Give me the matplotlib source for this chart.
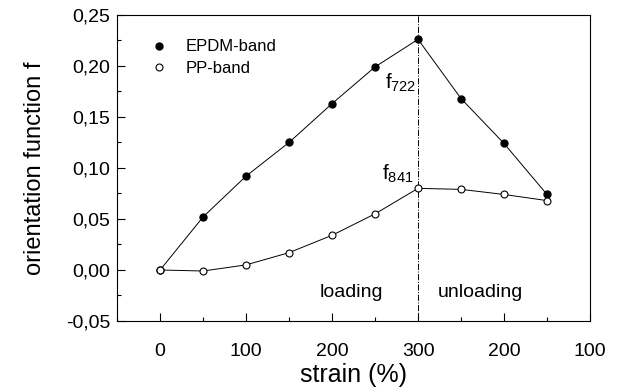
import matplotlib
matplotlib.use("Agg")
import matplotlib.pyplot as plt
from matplotlib.ticker import MultipleLocator, FixedLocator, FixedFormatter

plt.rcParams['font.family'] = ['Liberation Sans', 'DejaVu Sans']
plt.rcParams['mathtext.fontset'] = 'custom'
plt.rcParams['mathtext.rm'] = 'Liberation Sans'
plt.rcParams['mathtext.it'] = 'Liberation Sans'

# x positions along the load path (0..300 loading, then 300->100 unloading)
path_pos = [0, 50, 100, 150, 200, 250, 300, 350, 400, 450]
epdm = [0.0, 0.052, 0.092, 0.125, 0.163, 0.199, 0.226, 0.168, 0.124, 0.074]
pp = [0.0, -0.001, 0.005, 0.017, 0.034, 0.055, 0.080, 0.079, 0.074, 0.068]
xtick_pos = [0, 100, 200, 300, 400, 500]
xtick_labels = ['0', '100', '200', '300', '200', '100']
ytick_vals = [-0.05, 0.0, 0.05, 0.10, 0.15, 0.20, 0.25]
ytick_labels = ['-0,05', '0,00', '0,05', '0,10', '0,15', '0,20', '0,25']

fig = plt.figure(figsize=(6.23, 3.91), dpi=100)
ax = fig.add_axes([0.188, 0.179, 0.759, 0.783])

ax.plot(path_pos, epdm, color='black', lw=0.7, zorder=2)
ax.plot(path_pos, pp, color='black', lw=0.7, zorder=2)
ax.plot(path_pos, epdm, 'o', color='black', ms=5, zorder=3, label='EPDM-band')
ax.plot(path_pos, pp, 'o', mfc='white', mec='black', mew=0.8, ms=5, zorder=3, label='PP-band')

ax.axvline(300, color='black', lw=0.7, ls='-.', zorder=1)

ax.set_xlim(-50, 500)
ax.set_ylim(-0.05, 0.25)
ax.xaxis.set_major_locator(FixedLocator(xtick_pos))
ax.xaxis.set_major_formatter(FixedFormatter(xtick_labels))
ax.xaxis.set_minor_locator(MultipleLocator(50))
ax.yaxis.set_major_locator(FixedLocator(ytick_vals))
ax.yaxis.set_major_formatter(FixedFormatter(ytick_labels))
ax.yaxis.set_minor_locator(MultipleLocator(0.025))
ax.tick_params(which='both', direction='in', top=False, right=False, labelsize=14)
ax.tick_params(which='major', length=6, width=0.8)
ax.tick_params(which='minor', length=3, width=0.8)
ax.tick_params(axis='x', pad=16)
ax.tick_params(axis='y', pad=5)

ax.set_xlabel('strain (%)', fontsize=18, labelpad=2)
ax.set_ylabel('orientation function f', fontsize=17, labelpad=14)

leg = ax.legend(loc='upper left', bbox_to_anchor=(0.068, 0.92), frameon=False,
                fontsize=12, handletextpad=1.0, labelspacing=0.4, handlelength=1.2,
                borderpad=0, borderaxespad=0)

ax.text(261, 0.194, r'$\mathregular{f_{722}}$', fontsize=15, va='top')
ax.text(258, 0.105, r'$\mathregular{f_{841}}$', fontsize=15, va='top')
ax.text(222, -0.0225, 'loading', fontsize=14, ha='center', va='center')
ax.text(373, -0.0225, 'unloading', fontsize=14, ha='center', va='center')

fig.savefig('out.png', dpi=100)
